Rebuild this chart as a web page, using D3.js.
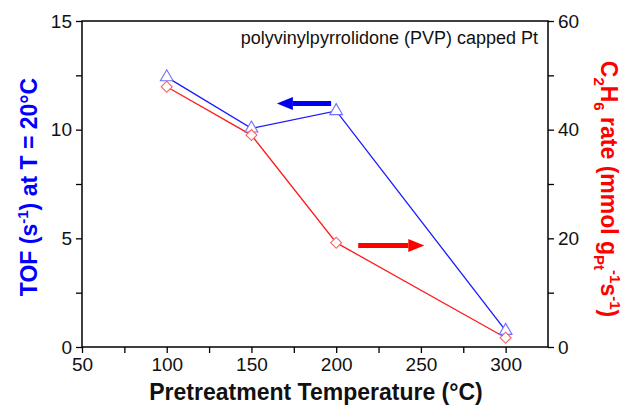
<!DOCTYPE html>
<html>
<head>
<meta charset="utf-8">
<script src="https://cdn.jsdelivr.net/npm/d3@7"></script>
<style>
  html, body { margin: 0; padding: 0; background: #fff; overflow: hidden; }
  svg { display: block; }
  text { font-family: "Liberation Sans", Arial, sans-serif; }
</style>
</head>
<body>
<script>
// data
const temps = [100, 150, 200, 300];
const tofValues = [12.42, 10.06, 10.86, 0.75];
const rateValues = [47.9, 39.0, 19.2, 1.7];
const xTicks = [50, 100, 150, 200, 250, 300];
const leftTicks = [0, 5, 10, 15];
const rightTicks = [0, 20, 40, 60];

const w = 622, h = 408;
const margin = { top: 21, right: 74, bottom: 61, left: 82 };
const innerWidth = w - margin.left - margin.right;
const innerHeight = h - margin.top - margin.bottom;

const svg = d3.select("body").append("svg")
        .attr("width", w)
        .attr("height", h);

const g = svg.append("g")
        .attr("transform", `translate(${margin.left},${margin.top})`);

const xScale = d3.scaleLinear().domain([50, 325]).range([0, innerWidth]);
const yLeft = d3.scaleLinear().domain([0, 15]).range([innerHeight, 0]);
const yRight = d3.scaleLinear().domain([0, 60]).range([innerHeight, 0]);

// frame
g.append("rect")
        .attr("width", innerWidth)
        .attr("height", innerHeight)
        .attr("fill", "none")
        .attr("stroke", "#000")
        .attr("stroke-width", 1.5);

function styleAxis(sel) {
        sel.select(".domain").remove();
        sel.selectAll(".tick line").attr("stroke", "#000").attr("stroke-width", 1.3);
        sel.selectAll(".tick text")
                .attr("fill", "#111")
                .style("font-size", "19px");
}

// minor ticks (no labels)
function minor(sel) {
        sel.call(styleAxis);
        sel.selectAll(".tick text").remove();
}
g.append("g").attr("transform", `translate(0,${innerHeight})`)
        .call(d3.axisBottom(xScale).tickValues(d3.range(75, 325, 50)).tickSize(6))
        .call(minor);
g.append("g")
        .call(d3.axisLeft(yLeft).tickValues([2.5, 7.5, 12.5]).tickSize(6))
        .call(minor);
g.append("g").attr("transform", `translate(${innerWidth},0)`)
        .call(d3.axisRight(yRight).tickValues([10, 30, 50]).tickSize(6))
        .call(minor);

// major ticks
g.append("g").attr("transform", `translate(0,${innerHeight})`)
        .call(d3.axisBottom(xScale).tickValues(xTicks).tickSize(6).tickPadding(5))
        .call(styleAxis);
g.append("g")
        .call(d3.axisLeft(yLeft).tickValues(leftTicks).tickSize(6).tickPadding(4))
        .call(styleAxis);
g.append("g").attr("transform", `translate(${innerWidth},0)`)
        .call(d3.axisRight(yRight).tickValues(rightTicks).tickSize(6).tickPadding(4))
        .call(styleAxis);

// lines
const tofData = temps.map((t, i) => ({ x: t, y: tofValues[i] }));
const rateData = temps.map((t, i) => ({ x: t, y: rateValues[i] }));

g.append("path")
        .datum(tofData)
        .attr("fill", "none")
        .attr("stroke", "#1a1aff")
        .attr("stroke-width", 1.3)
        .attr("d", d3.line().x(d => xScale(d.x)).y(d => yLeft(d.y)));

g.append("path")
        .datum(rateData)
        .attr("fill", "none")
        .attr("stroke", "#ff1a1a")
        .attr("stroke-width", 1.3)
        .attr("d", d3.line().x(d => xScale(d.x)).y(d => yRight(d.y)));

// markers
g.selectAll(".tri")
        .data(tofData)
        .enter()
        .append("path")
        .attr("class", "tri")
        .attr("transform", d => `translate(${xScale(d.x)},${yLeft(d.y)})`)
        .attr("d", d3.symbol().type(d3.symbolTriangle).size(70))
        .attr("fill", "#fff")
        .attr("stroke", "#7070ff")
        .attr("stroke-width", 1.1);

g.selectAll(".dia")
        .data(rateData)
        .enter()
        .append("path")
        .attr("class", "dia")
        .attr("transform", d => `translate(${xScale(d.x)},${yRight(d.y)}) rotate(45)`)
        .attr("d", d3.symbol().type(d3.symbolSquare).size(60))
        .attr("fill", "#fff")
        .attr("stroke", "#ff6060")
        .attr("stroke-width", 1.1);

// arrows
function arrow(x1, x2, y, color) {
        const dir = x2 > x1 ? 1 : -1;
        const headLen = 16;
        g.append("line")
                .attr("x1", x1).attr("x2", x2 - dir * headLen)
                .attr("y1", y).attr("y2", y)
                .attr("stroke", color)
                .attr("stroke-width", 5);
        g.append("path")
                .attr("d", `M${x2},${y} L${x2 - dir * headLen},${y - 6.5} L${x2 - dir * headLen},${y + 6.5} Z`)
                .attr("fill", color);
}
arrow(xScale(197), xScale(165), yLeft(11.2), "#0000ee");
arrow(xScale(213), xScale(252), yRight(18.7), "#ff0000");

// annotation
g.append("text")
        .attr("x", innerWidth - 10)
        .attr("y", 23)
        .attr("text-anchor", "end")
        .style("font-size", "18px")
        .attr("fill", "#111")
        .text("polyvinylpyrrolidone (PVP) capped Pt");

// axis titles
svg.append("text")
        .attr("x", 316)
        .attr("y", 400)
        .attr("text-anchor", "middle")
        .style("font-size", "23px")
        .style("font-weight", "bold")
        .attr("fill", "#111")
        .text("Pretreatment Temperature (°C)");

const leftTitle = svg.append("text")
        .attr("transform", `translate(37,187) rotate(-90)`)
        .attr("text-anchor", "middle")
        .style("font-size", "23px")
        .style("font-weight", "bold")
        .attr("fill", "#0000ff");
leftTitle.append("tspan").text("TOF (s");
leftTitle.append("tspan").attr("dy", -9).style("font-size", "15px").text("-1");
leftTitle.append("tspan").attr("dy", 9).text(") at T = 20°C");

const rightTitle = svg.append("text")
        .attr("transform", `translate(601,189) rotate(90)`)
        .attr("text-anchor", "middle")
        .style("font-size", "23px")
        .style("font-weight", "bold")
        .attr("fill", "#ff0000");
rightTitle.append("tspan").text("C");
rightTitle.append("tspan").attr("dy", 7).style("font-size", "15px").text("2");
rightTitle.append("tspan").attr("dy", -7).text("H");
rightTitle.append("tspan").attr("dy", 7).style("font-size", "15px").text("6");
rightTitle.append("tspan").attr("dy", -7).text(" rate (mmol g");
rightTitle.append("tspan").attr("dy", 7).style("font-size", "15px").text("Pt");
rightTitle.append("tspan").attr("dy", -16).style("font-size", "15px").text("-1");
rightTitle.append("tspan").attr("dy", 9).text("s");
rightTitle.append("tspan").attr("dy", -9).style("font-size", "15px").text("-1");
rightTitle.append("tspan").attr("dy", 9).text(")");
</script>
</body>
</html>
